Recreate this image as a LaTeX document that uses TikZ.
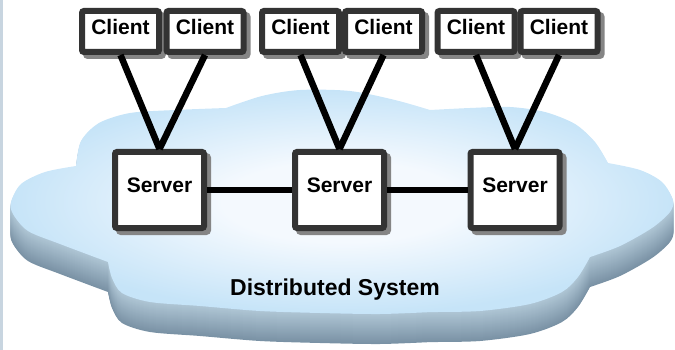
\documentclass[tikz,border=0pt]{standalone}
\usepackage{fontspec}
\setmainfont{Liberation Sans}
\usetikzlibrary{shadows,positioning}
\definecolor{boxgray}{HTML}{333333}
\definecolor{shadowgray}{HTML}{858585}
\definecolor{cloudin}{HTML}{F4F9FE}
\definecolor{cloudout}{HTML}{C6E4F8}
\definecolor{sidehigh}{HTML}{AFC6D5}
\definecolor{sidelow}{HTML}{7A92A5}
\definecolor{leftbar}{HTML}{C8D5E0}
\pgfdeclareradialshading{cloudtop}{\pgfpoint{0bp}{0bp}}{color(0bp)=(cloudin); color(9bp)=(cloudin); color(25bp)=(cloudout); color(50bp)=(cloudout)}
\newcommand{\cloudoutline}{plot[smooth] coordinates {(108,262) (60,244) (28,231) (13,214) (11,202) (21,184) (45,172) (76,166)}
  -- plot[smooth] coordinates {(76,166) (81,141) (99,123) (130,113) (175,110) (226,108)}
  -- plot[smooth] coordinates {(226,108) (262,96) (300,90) (350,91) (395,100) (430,110)}
  -- plot[smooth] coordinates {(430,110) (470,108) (510,107) (545,112) (575,124) (595,142) (608,163)}
  -- plot[smooth] coordinates {(608,163) (640,170) (662,182) (673,200) (670,212) (652,228) (620,246) (590,257)}
  -- plot[smooth] coordinates {(590,257) (578,277) (562,292) (530,304) (480,311) (432,312)}
  -- plot[smooth] coordinates {(432,312) (380,314) (320,313) (260,311) (200,306) (150,302) (122,293) (112,278) (108,262)}
  -- cycle}

\begin{document}
\begin{tikzpicture}[x=1pt, y=-1pt]
    \tikzstyle{client} = [rectangle, rounded corners=2pt, draw=boxgray, line width=6pt, fill=white, minimum width=77pt, minimum height=41pt, text depth=10pt, font=\fontsize{21}{24}\selectfont\bfseries, drop shadow={shadow xshift=4pt, shadow yshift=-4pt, fill=shadowgray, draw=shadowgray, opacity=1}]
    \tikzstyle{server} = [client, minimum width=89pt, minimum height=76pt]
    \tikzstyle{link}   = [line width=6.5pt, black]
    \useasboundingbox (0,0) rectangle (675,350);
    \fill[leftbar] (0,0) rectangle (2.5,350);

    % Draw the cloud: side first, then the top
    \foreach \d [evaluate=\d as \p using int(100*\d/30)] in {30,29,...,1}
        \fill[sidelow!\p!sidehigh, shift={(0,\d)}] \cloudoutline;
    \path[shading=cloudtop] \cloudoutline;

    \node[client] (C1a) at (120.5,31.5) {Client};
    \node[client] (C1b) at (205,31.5) {Client};
    \node[client] (C2a) at (300.5,31.5) {Client};
    \node[client] (C2b) at (383.5,31.5) {Client};
    \node[client] (C3a) at (476,31.5) {Client};
    \node[client] (C3b) at (559,31.5) {Client};

    \node[server] (S1) at (159.5,190) {Server};
    \node[server] (S2) at (339.5,190) {Server};
    \node[server] (S3) at (515,190) {Server};

    \node[font=\fontsize{23}{26}\selectfont\bfseries] (sys) at (335,290) {Distributed System};

    \draw[link] (C1a.south) -- (S1.north);
    \draw[link] (C1b.south) -- (S1.north);
    \draw[link] (C2a.south) -- (S2.north);
    \draw[link] (C2b.south) -- (S2.north);
    \draw[link] (C3a.south) -- (S3.north);
    \draw[link] (C3b.south) -- (S3.north);

    \draw[link] (S1.east) -- (S2.west);
    \draw[link] (S2.east) -- (S3.west);
\end{tikzpicture}
\end{document}
